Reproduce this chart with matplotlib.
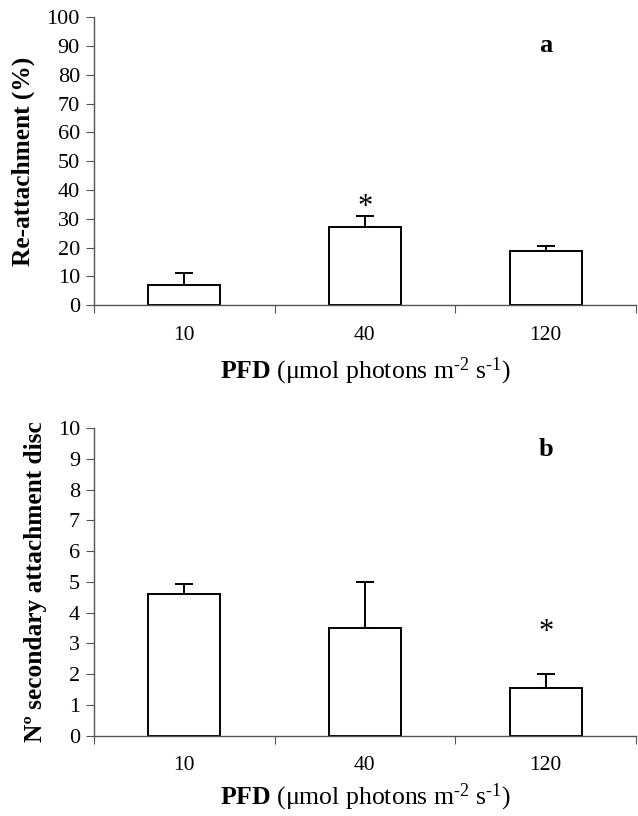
import matplotlib
matplotlib.use("Agg")
import matplotlib.pyplot as plt
import numpy as np

categories = ["10", "40", "120"]
reattach = [7.0, 27.0, 18.7]
reattach_err = [4.1, 4.1, 2.0]
reattach_sig = [False, True, False]
discs = [4.6, 3.5, 1.55]
discs_err = [0.33, 1.5, 0.45]
discs_sig = [False, False, True]

plt.rcParams['font.family'] = ['Liberation Serif', 'DejaVu Serif']
plt.rcParams['mathtext.fontset'] = 'custom'
plt.rcParams['mathtext.rm'] = 'Liberation Serif'
plt.rcParams['mathtext.bf'] = 'Liberation Serif:bold'
plt.rcParams['mathtext.it'] = 'Liberation Serif:italic'
plt.rcParams['axes.unicode_minus'] = False

fig = plt.figure(figsize=(6.38, 8.16), dpi=100)
ax1 = fig.add_axes([0.147, 0.626, 0.850, 0.353])
ax2 = fig.add_axes([0.147, 0.0985, 0.850, 0.377])

xlabel = r"$\mathbf{PFD}$ ($\mathrm{\mu}$mol photons m$^{\text{-2}}$ s$^{\text{-1}}$)"

def panel(ax, vals, errs, sig, ymax, ystep, ylabel, letter, letter_y, star_off, xpad):
    x = np.arange(len(vals)) + 0.5
    ax.bar(x, vals, width=0.40, color='white', edgecolor='black', linewidth=1.4, zorder=2)
    yerr = [np.zeros(len(vals)), errs]
    ax.errorbar(x, vals, yerr=yerr, fmt='none', ecolor='black', elinewidth=1.4,
                capsize=6.5, capthick=1.4, zorder=1)
    for xi, v, e, s in zip(x, vals, errs, sig):
        if s:
            ax.text(xi, v + e + star_off, "*", ha='center', va='bottom', fontsize=22)
    ax.set_xlim(0, len(vals))
    ax.set_ylim(0, ymax)
    ax.set_yticks(np.arange(0, ymax + ystep / 2, ystep))
    ax.set_xticks(np.arange(0, len(vals) + 1))
    ax.set_xticklabels([])
    ax.set_xticks(x, minor=True)
    ax.set_xticklabels(categories, minor=True)
    ax.tick_params(axis='x', which='minor', length=0, pad=15, labelsize=15.5)
    ax.tick_params(axis='x', which='major', length=6, direction='out', color='#555555')
    ax.tick_params(axis='y', length=6, direction='out', color='#555555', labelsize=16, pad=4)
    for s in ['top', 'right']:
        ax.spines[s].set_visible(False)
    for s in ['left', 'bottom']:
        ax.spines[s].set_color('#555555')
        ax.spines[s].set_linewidth(1.0)
    ax.set_ylabel(ylabel, fontsize=18.3, fontweight='bold', labelpad=8)
    ax.set_xlabel(xlabel, fontsize=18.5, labelpad=xpad)
    ax.text(0.833, letter_y, letter, transform=ax.transAxes, fontsize=19, fontweight='bold', ha='center', va='center')

panel(ax1, reattach, reattach_err, reattach_sig, 100, 10, "Re-attachment (%)", "a", 0.90, -2.2, 7.5)
panel(ax2, discs, discs_err, discs_sig, 10, 1, "Nº secondary attachment disc", "b", 0.93, 0.87, 4.5)

fig.savefig("out.png", dpi=100)
